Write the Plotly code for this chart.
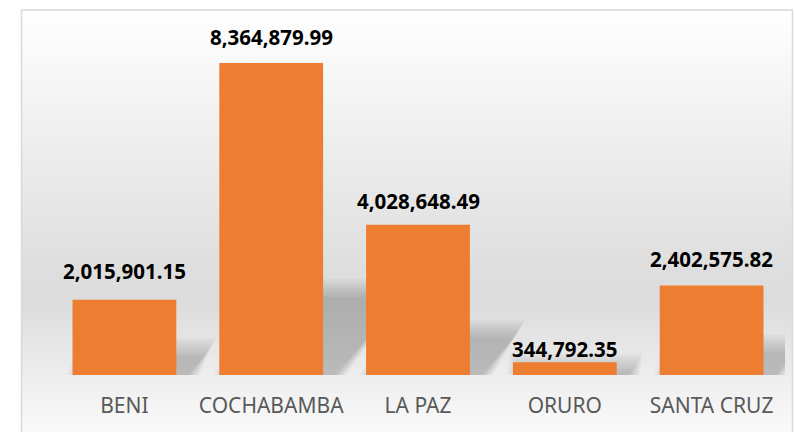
import base64
import plotly.graph_objects as go

# ---------------- data ----------------
categories = ["BENI", "COCHABAMBA", "LA PAZ", "ORURO", "SANTA CRUZ"]
values = [2015901.15, 8364879.99, 4028648.49, 344792.35, 2402575.82]

# ---------------- style ----------------
W, H = 794, 432
BAR_COLOR = "#ED7D31"
label_offsets = [29, 26, 24, 13, 26]   # px above bar top (label centre)

plot_left, plot_right = 50.5, 785.5
plot_top, plot_bottom = 10, 375
px_per_unit = 312 / 8364879.99
y_max = (plot_bottom - plot_top) / px_per_unit
pw = plot_right - plot_left
ph = plot_bottom - plot_top


def px_to_paper_x(px):
    return (px - plot_left) / pw


def px_to_paper_y(py):
    return (plot_bottom - py) / ph


# background gradient (chart area) as an SVG image
svg = (
    '<svg xmlns="http://www.w3.org/2000/svg" width="100" height="100" preserveAspectRatio="none">'
    '<defs><linearGradient id="g" x1="0" y1="0" x2="0" y2="1">'
    '<stop offset="0" stop-color="#FFFFFF"/>'
    '<stop offset="0.25" stop-color="#F1F1F1"/>'
    '<stop offset="0.6" stop-color="#DEDEDE"/>'
    '<stop offset="0.68" stop-color="#DCDCDC"/>'
    '<stop offset="0.88" stop-color="#F0F0F0"/>'
    '<stop offset="1" stop-color="#FCFCFC"/>'
    '</linearGradient></defs>'
    '<rect x="0" y="0" width="100" height="100" fill="url(#g)"/></svg>'
)
svg_uri = "data:image/svg+xml;base64," + base64.b64encode(svg.encode()).decode()

box_l, box_r, box_t, box_b = 21, 793, 10, 440

fig = go.Figure()
fig.add_trace(go.Bar(
    x=categories, y=values,
    marker=dict(color=BAR_COLOR, line=dict(width=0)),
    hoverinfo="x+y",
))

# soft shadows (computed from bar values)
cat_px = pw / len(categories)
bar_half = 0.5 * (1 - 0.293)
shapes = []
for i, v in enumerate(values):
    dy = 0.25 * v
    dy_px = dy * px_per_unit
    dx = (0.87 * dy_px) / cat_px
    sx = 12 / cat_px
    for grow in [18, 15, 12, 9, 6, 3, 0]:
        g = grow / cat_px
        gy = grow / px_per_unit
        x0 = i - bar_half + sx - g
        x1 = i + bar_half + sx + g * 0.6
        path = (f"M {x0},0 L {x1},0 L {x1 + dx},{dy + gy} L {x0 + dx},{dy + gy} Z")
        shapes.append(dict(type="path", path=path, xref="x", yref="y",
                           fillcolor="rgba(0,0,0,0.03)", line=dict(width=0),
                           layer="below"))

# chart border
shapes.append(dict(type="rect", xref="paper", yref="paper",
                   x0=px_to_paper_x(box_l), x1=px_to_paper_x(box_r),
                   y0=px_to_paper_y(box_b), y1=px_to_paper_y(box_t),
                   line=dict(color="#D9D9D9", width=1.5), fillcolor="rgba(0,0,0,0)",
                   layer="above"))

annotations = []
for c, v, off in zip(categories, values, label_offsets):
    annotations.append(dict(
        x=c, y=v, xref="x", yref="y", text=f"{v:,.2f}", showarrow=False,
        yanchor="middle", yshift=off,
        font=dict(family="Noto Sans", size=20.5, color="#000000", weight="bold"),
    ))

fig.update_layout(
    width=W, height=H,
    margin=dict(l=plot_left, r=W - plot_right, t=plot_top, b=H - plot_bottom, pad=0,
                autoexpand=False),
    paper_bgcolor="white",
    plot_bgcolor="rgba(0,0,0,0)",
    bargap=0.293,
    showlegend=False,
    shapes=shapes,
    annotations=annotations,
    images=[dict(source=svg_uri, xref="paper", yref="paper",
                 x=px_to_paper_x(box_l), y=px_to_paper_y(box_t),
                 sizex=(box_r - box_l) / pw, sizey=(box_b - box_t) / ph,
                 sizing="stretch", layer="below", xanchor="left", yanchor="top")],
    xaxis=dict(showline=False, showgrid=False, zeroline=False, ticks="",
               automargin=False, range=[-0.5, len(categories) - 0.5],
               tickfont=dict(family="Noto Sans", size=21, color="#595959"),
               ticklabelstandoff=16),
    yaxis=dict(range=[0, y_max], visible=False, showgrid=False, zeroline=False,
               automargin=False),
)

fig.write_html("out.html",
               config={"displayModeBar": False},
               post_script="document.body.style.margin='0';document.body.style.overflow='hidden';")
